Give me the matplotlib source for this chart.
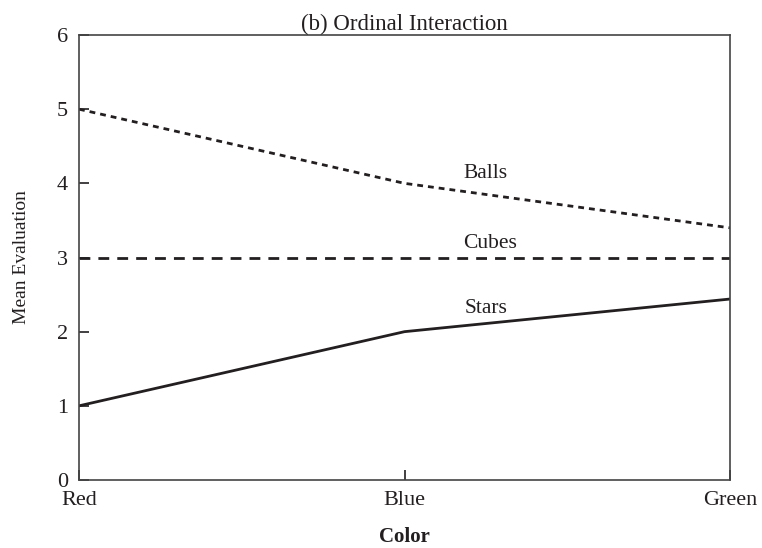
import matplotlib
matplotlib.use("Agg")
import matplotlib.pyplot as plt

colors = ["Red", "Blue", "Green"]
balls = [5.0, 4.0, 3.40]
cubes = [3.0, 3.0, 3.0]
stars = [1.0, 2.0, 2.44]
yticks = [0, 1, 2, 3, 4, 5, 6]

plt.rcParams['font.family'] = ['Liberation Serif']
fig = plt.figure(figsize=(7.62, 5.48), dpi=100)
ax = fig.add_axes([0.1037, 0.1241, 0.8543, 0.8120])
x = range(len(colors))
lc = "#231f20"
ax.plot(x, balls, color=lc, lw=2.0, linestyle=(0, (2.1, 1.8)))
ax.plot(x, cubes, color=lc, lw=2.0, linestyle=(0, (3.9, 2.9)))
ax.plot(x, stars, color=lc, lw=2.0, linestyle='-')
ax.text(1.25, 4.07, "Balls", fontsize=15.5, ha='center', va='baseline', color=lc)
ax.text(1.262, 3.13, "Cubes", fontsize=15.5, ha='center', va='baseline', color=lc)
ax.text(1.25, 2.25, "Stars", fontsize=15.5, ha='center', va='baseline', color=lc)
ax.set_xlim(0, 2)
ax.set_ylim(0, 6)
ax.set_xticks(list(x))
ax.set_xticklabels(colors)
ax.set_yticks(yticks)
ax.tick_params(direction='in', length=7, width=1.2, labelsize=16, colors=lc)
ax.tick_params(axis='y', pad=8)
ax.tick_params(axis='x', pad=8)
for s in ax.spines.values():
    s.set_color("#444444")
    s.set_linewidth(1.2)
ax.set_xlabel("Color", fontsize=15, fontweight='bold', color=lc, labelpad=12)
ax.set_ylabel("Mean Evaluation", fontsize=14, color=lc, labelpad=19)
ax.set_title("(b) Ordinal Interaction", fontsize=16.5, color=lc, pad=3)
fig.savefig("out.png", dpi=100)
